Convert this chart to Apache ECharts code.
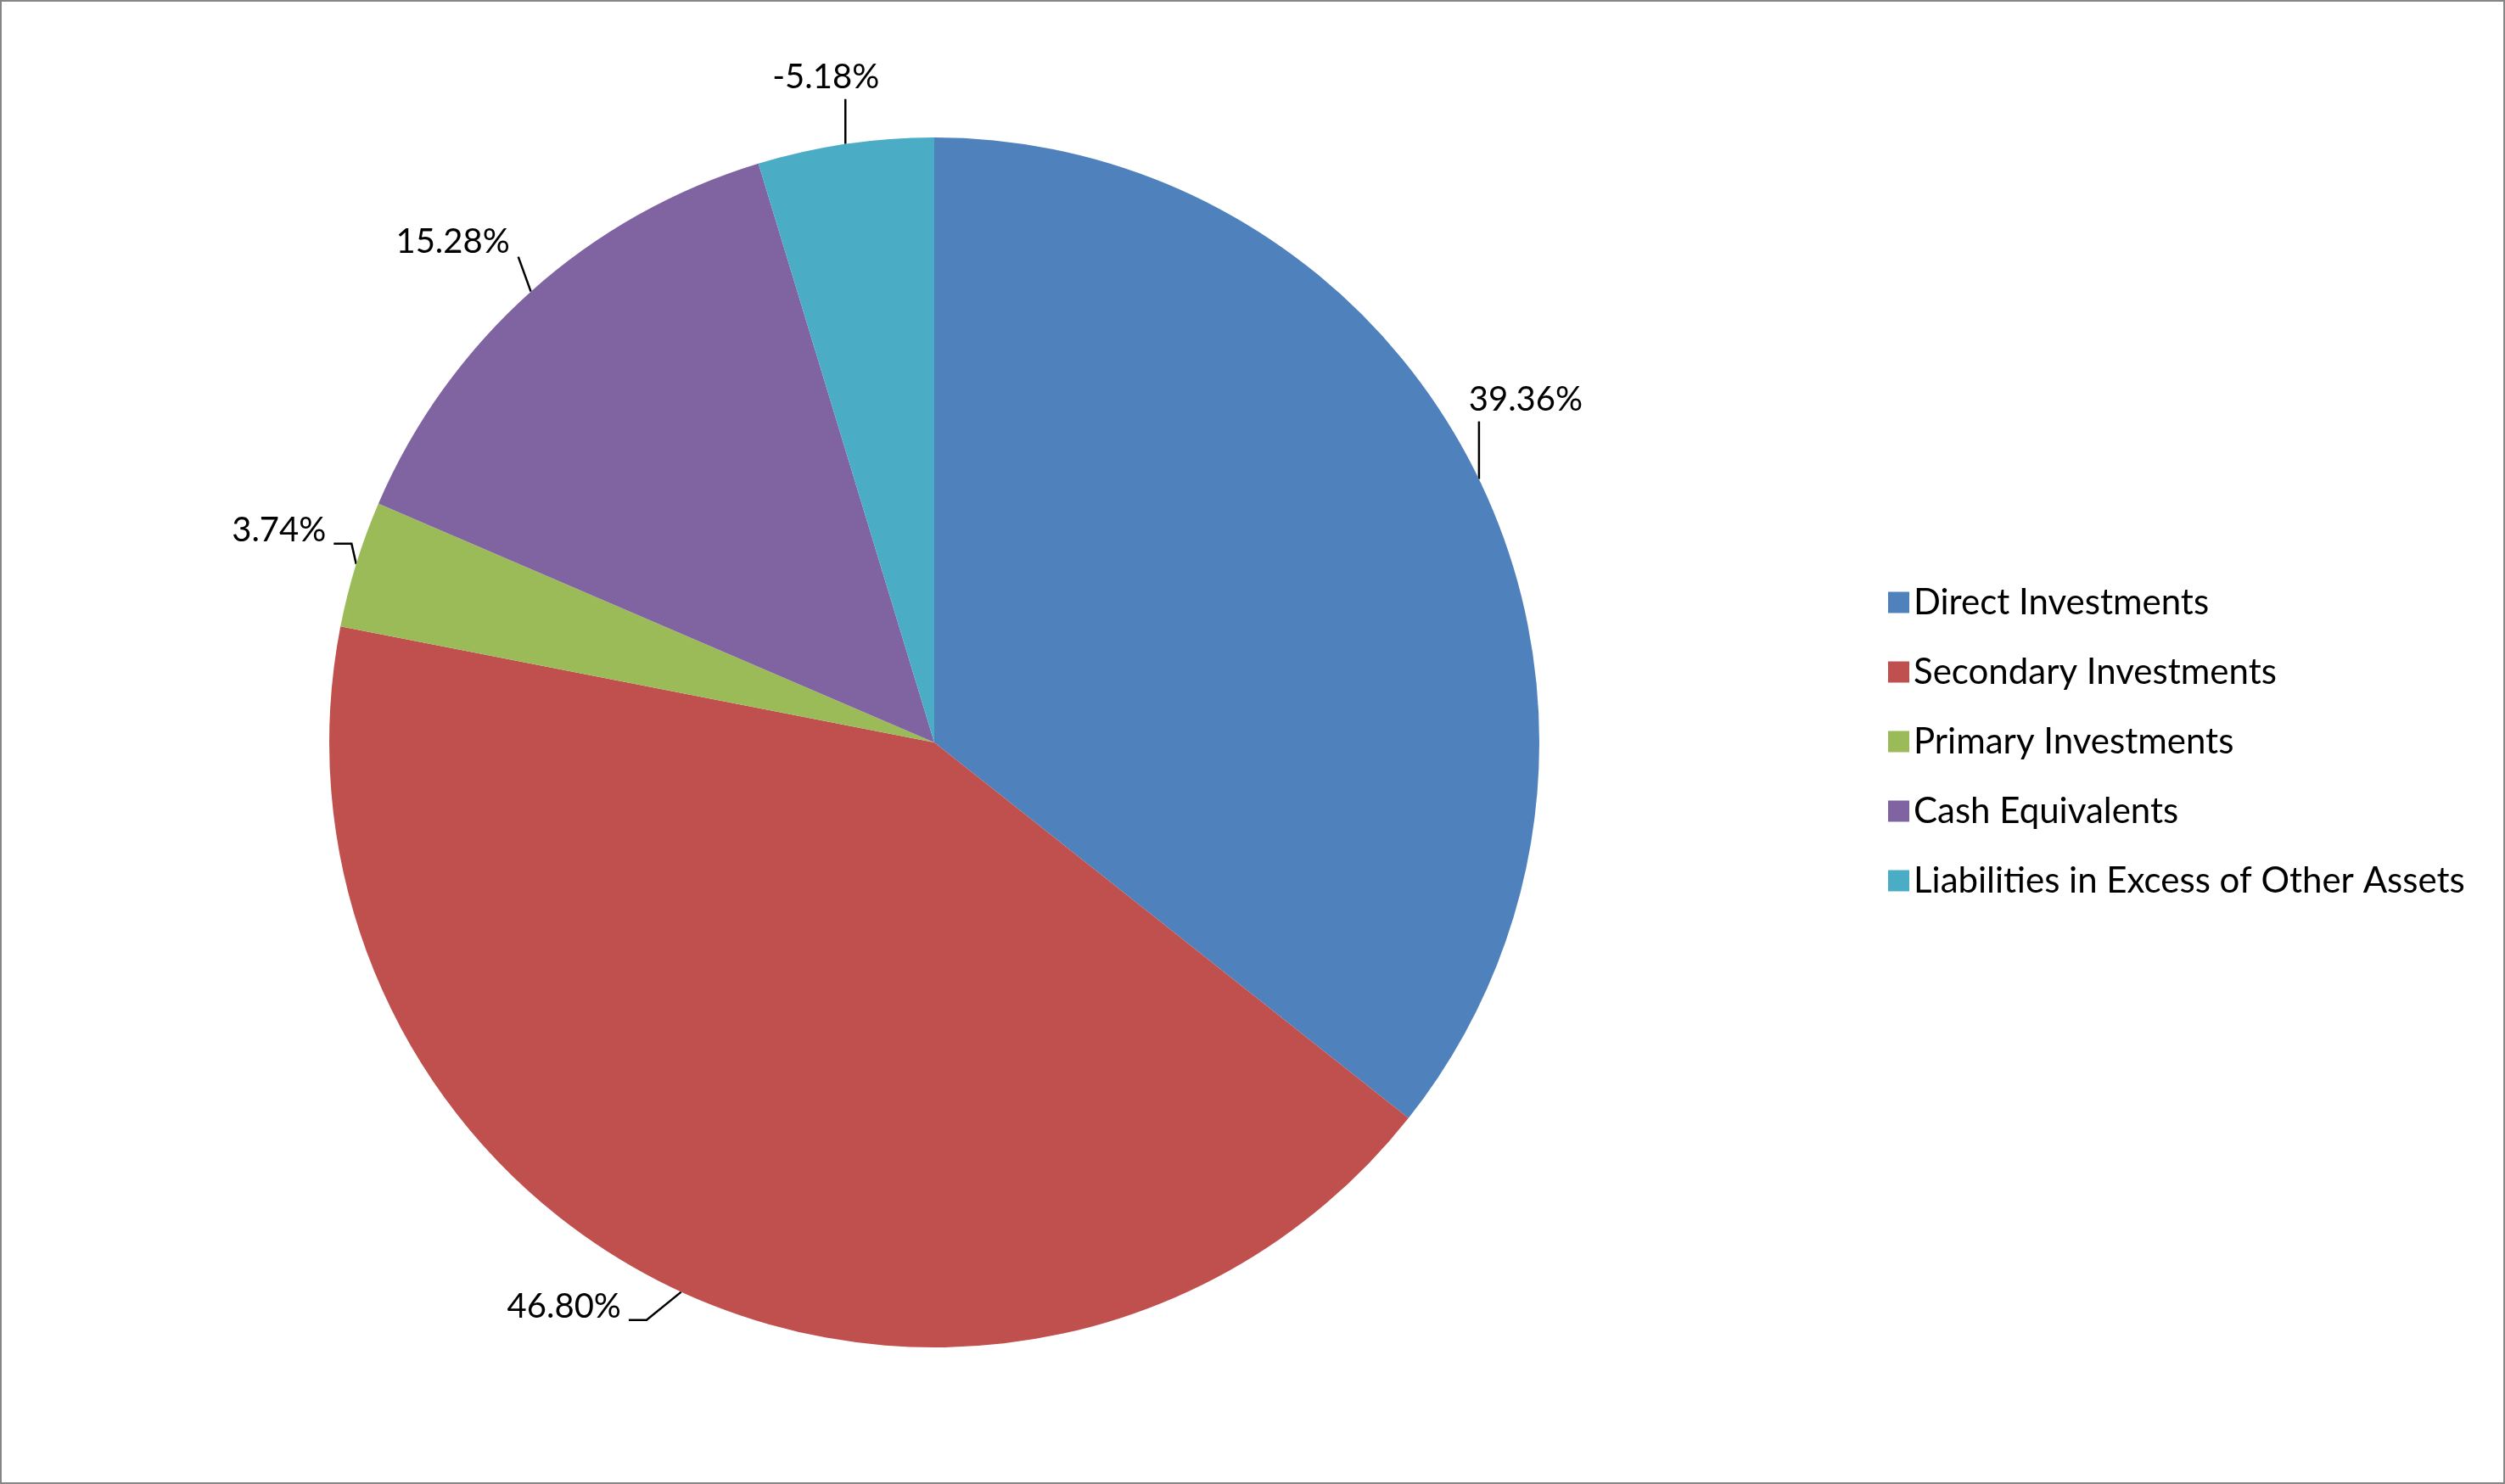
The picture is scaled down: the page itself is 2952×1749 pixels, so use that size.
<!DOCTYPE html>
<html>
<head>
<meta charset="UTF-8">
<title>Portfolio Allocation</title>
<script src="https://cdn.jsdelivr.net/npm/echarts@6.0.0/dist/echarts.min.js"></script>
<style>
  html, body { margin: 0; padding: 0; background: #fff; }
  #chart { width: 2948px; height: 1745px; border: 2px solid #868686; }
</style>
</head>
<body>
<div id="chart"></div>
<script>
// slice names and values (percent of net assets)
const categories = [
  'Direct Investments',
  'Secondary Investments',
  'Primary Investments',
  'Cash Equivalents',
  'Liabilities in Excess of Other Assets'
];
const values = [39.36, 46.80, 3.74, 15.28, -5.18];
const colors = ['#4F81BD', '#C0504D', '#9BBB59', '#8064A2', '#4BACC6'];

const CX = 1099, CY = 873, R = 713;

// label placement relative to the slice's edge point: [dx, dy, leader style]
const labelPlacement = [
  [55, -94, 'v'],
  [-138, 17, 's'],
  [-91, -40, 's'],
  [-92, -59, 'd'],
  [-23, -79, 'v']
];

const chart = echarts.init(document.getElementById('chart'));

// pie sizes by magnitude, label keeps the sign
const pieData = categories.map((name, i) => ({
  name: name,
  value: Math.abs(values[i]),
  raw: values[i]
}));

const total = pieData.reduce((s, d) => s + d.value, 0);

function edgePoint(idx) {
  let before = 0;
  for (let i = 0; i < idx; i++) before += pieData[i].value;
  const mid = (before + pieData[idx].value / 2) / total * Math.PI * 2;
  return [CX + R * Math.sin(mid), CY - R * Math.cos(mid)];
}

const option = {
  animation: false,
  color: colors,
  legend: {
    orient: 'vertical',
    left: 2218,
    top: 682,
    itemWidth: 25,
    itemHeight: 25,
    itemGap: 40,
    icon: 'rect',
    textStyle: { fontSize: 42, color: '#000', fontFamily: 'Lato, sans-serif', padding: [0, 0, 0, 0] },
    data: categories
  },
  series: [{
    type: 'pie',
    center: [CX, CY],
    radius: R,
    startAngle: 90,
    clockwise: true,
    avoidLabelOverlap: false,
    data: pieData,
    itemStyle: { borderWidth: 0 },
    label: {
      show: true,
      position: 'outside',
      color: '#000',
      fontSize: 40,
      fontFamily: 'Lato, sans-serif',
      formatter: p => p.data.raw.toFixed(2) + '%'
    },
    labelLine: {
      show: true,
      length: 40,
      length2: 15,
      lineStyle: { color: '#000', width: 2.5 }
    },
    labelLayout: function (params) {
      const i = params.dataIndex;
      const e = edgePoint(i);
      const pl = labelPlacement[i];
      const x = e[0] + pl[0];
      const y = e[1] + pl[1];
      const w = params.labelRect.width;
      const right = x + w / 2;
      const bottom = y + 15;
      let pts;
      if (pl[2] === 'v') {
        pts = [e, [e[0], bottom + 11], [e[0], bottom + 11]];
      } else if (pl[2] === 'd') {
        pts = [e, [right + 10, bottom + 3], [right + 10, bottom + 3]];
      } else {
        pts = [e, [right + 30, bottom + 1], [right + 9, bottom + 1]];
      }
      return {
        x: x,
        y: y,
        align: 'center',
        verticalAlign: 'middle',
        labelLinePoints: pts
      };
    },
    emphasis: { disabled: true }
  }]
};

chart.setOption(option);
</script>
</body>
</html>
